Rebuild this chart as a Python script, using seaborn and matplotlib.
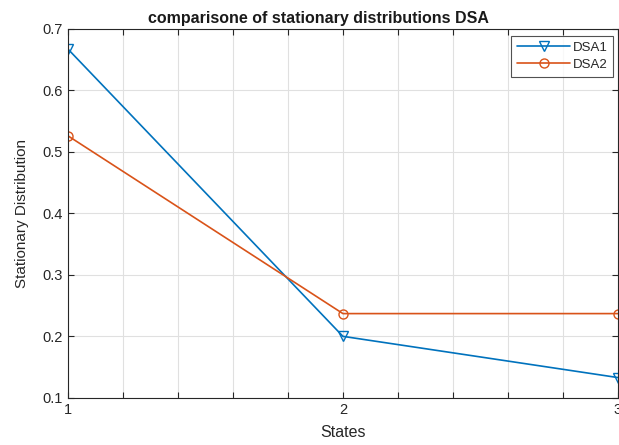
import numpy as np
import pandas as pd
import matplotlib
matplotlib.use("Agg")
import matplotlib.pyplot as plt
import seaborn as sns

states = [1, 2, 3]
dsa1 = [0.667, 0.200, 0.133]
dsa2 = [0.526, 0.237, 0.237]
series_names = ["DSA1", "DSA2"]

sns.set_style("white")
plt.rcParams['font.family'] = ['Liberation Sans', 'DejaVu Sans']

df = pd.DataFrame({
    "States": states * 2,
    "value": dsa1 + dsa2,
    "series": [series_names[0]] * 3 + [series_names[1]] * 3,
})

fig = plt.figure(figsize=(6.19, 4.45), dpi=100)
ax = fig.add_axes([0.110, 0.106, 0.888, 0.829])

colors = {"DSA1": "#0072BD", "DSA2": "#D95319"}
sns.lineplot(data=df, x="States", y="value", hue="series", style="series",
             markers={"DSA1": "v", "DSA2": "o"}, dashes=False,
             palette=colors, ax=ax, linewidth=1.2, markersize=6.5,
             markerfacecolor="none", markeredgewidth=1.0)
for line in ax.lines:
    line.set_markerfacecolor("none")
    line.set_markeredgecolor(line.get_color())

ax.set_xlim(1, 3)
ax.set_ylim(0.1, 0.7)
xt = np.round(np.arange(1, 3.01, 0.2), 1)
ax.set_xticks(xt)
ax.set_xticklabels([str(int(v)) if abs(v - round(v)) < 1e-9 else "" for v in xt])
ax.set_yticks(np.round(np.arange(0.1, 0.71, 0.1), 1))
ax.set_yticklabels([f"{v:.1f}" for v in np.arange(0.1, 0.71, 0.1)])
ax.grid(True, color="#e0e0e0", linewidth=0.8)
ax.tick_params(direction="in", length=4, width=0.8, colors="#262626",
               labelsize=10.5, top=True, right=True, bottom=True, left=True,
               pad=4)
for s in ax.spines.values():
    s.set_visible(True)
    s.set_color("#262626")
    s.set_linewidth(0.8)

ax.set_xlabel("States", fontsize=11.5, color="#262626")
ax.xaxis.set_label_coords(0.5, -0.075)
ax.set_ylabel("Stationary Distribution", fontsize=11, color="#262626")
ax.yaxis.set_label_coords(-0.072, 0.5)
ax.set_title("comparisone of stationary distributions DSA", fontsize=11.5,
             fontweight="bold", color="#1a1a1a", x=0.455, pad=4)

leg = ax.legend(loc="upper right", fontsize=9.5, frameon=True, fancybox=False,
                bbox_to_anchor=(0.992, 0.982), borderaxespad=0.0,
                handlelength=4.0, borderpad=0.45,
                labelspacing=0.35, handletextpad=0.2)
leg.get_frame().set_edgecolor("#262626")
leg.get_frame().set_linewidth(0.8)
for h in leg.legend_handles:
    h.set_markerfacecolor("none")

fig.savefig("out.png", dpi=100)
